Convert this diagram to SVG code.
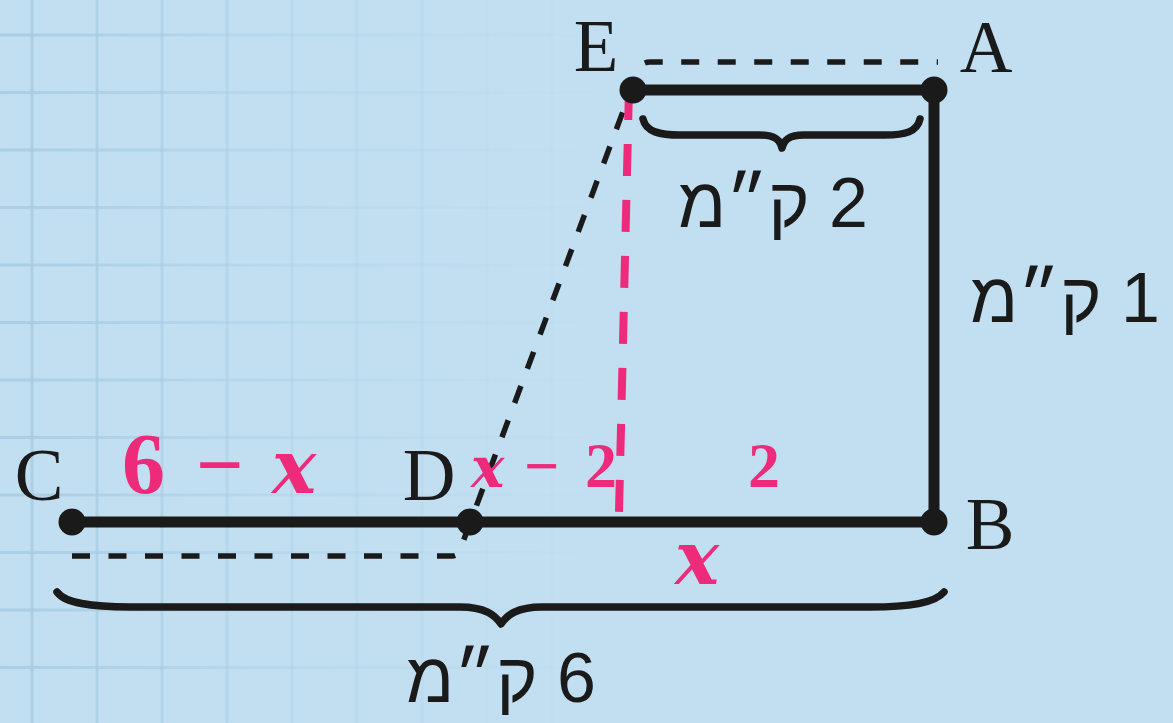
<svg xmlns="http://www.w3.org/2000/svg" width="1173" height="723" viewBox="0 0 1173 723">
<defs>
<linearGradient id="gridfade" gradientUnits="userSpaceOnUse" x1="0" y1="0" x2="620" y2="0">
<stop offset="0" stop-color="#a6cbe3" stop-opacity="0.85"/>
<stop offset="0.5" stop-color="#a6cbe3" stop-opacity="0.3"/>
<stop offset="1" stop-color="#a6cbe3" stop-opacity="0"/>
</linearGradient>
<style>
.grid line{stroke:url(#gridfade);stroke-width:3}
.solid{stroke:#1a1a1a;stroke-width:11;fill:none;stroke-linecap:round}
.dash{stroke:#1a1a1a;stroke-width:5.5;fill:none;stroke-dasharray:18 18.5}
.pdash{stroke:#ee2b7b;stroke-width:8;fill:none;stroke-dasharray:32 24}
.brace{stroke:#1a1a1a;stroke-width:7.5;fill:none;stroke-linecap:round;stroke-linejoin:round}
.dot{fill:#1a1a1a}
.lbl{font-family:"Liberation Serif","Times New Roman",serif;font-size:73px;fill:#1a1a1a;text-anchor:middle}
.heb{font-family:"Liberation Sans","DejaVu Sans",sans-serif;font-size:70px;fill:#1a1a1a;text-anchor:middle}
.num{font-family:"Liberation Serif",serif;font-weight:bold;fill:#ee2b7b}
.var{font-family:"DejaVu Serif",serif;font-weight:bold;font-style:italic;fill:#ee2b7b}
</style>
</defs>
<rect width="1173" height="723" fill="#c1dff1"/>
<g class="grid">
<line x1="32" y1="0" x2="32" y2="723"/>
<line x1="97" y1="0" x2="97" y2="723"/>
<line x1="162" y1="0" x2="162" y2="723"/>
<line x1="227" y1="0" x2="227" y2="723"/>
<line x1="292" y1="0" x2="292" y2="723"/>
<line x1="357" y1="0" x2="357" y2="723"/>
<line x1="422" y1="0" x2="422" y2="723"/>
<line x1="487" y1="0" x2="487" y2="723"/>
<line x1="552" y1="0" x2="552" y2="723"/>
<line x1="0" y1="35" x2="640" y2="35"/>
<line x1="0" y1="92.5" x2="640" y2="92.5"/>
<line x1="0" y1="150" x2="640" y2="150"/>
<line x1="0" y1="207.5" x2="640" y2="207.5"/>
<line x1="0" y1="265" x2="640" y2="265"/>
<line x1="0" y1="322.5" x2="640" y2="322.5"/>
<line x1="0" y1="380" x2="640" y2="380"/>
<line x1="0" y1="437.5" x2="640" y2="437.5"/>
<line x1="0" y1="495" x2="640" y2="495"/>
<line x1="0" y1="552.5" x2="640" y2="552.5"/>
<line x1="0" y1="610" x2="640" y2="610"/>
<line x1="0" y1="667.5" x2="640" y2="667.5"/>
</g>
<g id="connectors">
<path class="dash" d="M 72,556 H 452 Q 458,556 460,550 L 638,71 Q 641,62 650,62 H 938"/>
<line class="pdash" x1="629" y1="88" x2="619" y2="512"/>
<line class="solid" x1="633" y1="90" x2="934" y2="90"/>
<line class="solid" x1="934" y1="90" x2="934" y2="522"/>
<line class="solid" x1="72" y1="522" x2="934" y2="522"/>
<path class="brace" d="M 643,119 C 646,132 660,135 680,135 L 760,135 C 775,135 780,140 782,148 C 784,140 789,135 804,135 L 885,135 C 905,135 917,132 920,119"/>
<path class="brace" d="M 57,592 C 65,603 90,607 130,607 L 460,607 C 485,607 495,615 501,624 C 507,615 517,607 542,607 L 870,607 C 910,607 935,603 944,592"/>
</g>
<g id="node-E"><circle class="dot" cx="633" cy="90" r="13.5"/><text class="lbl" x="596" y="71">E</text></g>
<g id="node-A"><circle class="dot" cx="934" cy="90" r="13.5"/><text class="lbl" x="986" y="72">A</text></g>
<g id="node-B"><circle class="dot" cx="934" cy="522" r="13.5"/><text class="lbl" x="990" y="549">B</text></g>
<g id="node-D"><circle class="dot" cx="470" cy="522" r="13.5"/><text class="lbl" x="429" y="500">D</text></g>
<g id="node-C"><circle class="dot" cx="72" cy="522" r="13.5"/><text class="lbl" x="39" y="500">C</text></g>
<g id="labels">
<text class="heb" x="773" y="227" direction="rtl" unicode-bidi="embed">2 ק״מ</text>
<text class="heb" x="1065" y="322" direction="rtl" unicode-bidi="embed">1 ק״מ</text>
<text class="heb" x="501" y="702" direction="rtl" unicode-bidi="embed">6 ק״מ</text>
<text y="493"><tspan class="num" x="122" font-size="86">6</tspan><tspan class="num" x="196" font-size="84" font-weight="normal">−</tspan><tspan class="var" x="272" font-size="74">x</tspan></text>
<text y="487"><tspan class="var" x="471" font-size="56">x</tspan><tspan class="num" x="524" font-size="62" font-weight="normal">−</tspan><tspan class="num" x="585" font-size="64">2</tspan></text>
<text class="num" x="748" y="487" font-size="64">2</text>
<text class="var" x="675" y="584" font-size="74">x</text>
</g>
</svg>
